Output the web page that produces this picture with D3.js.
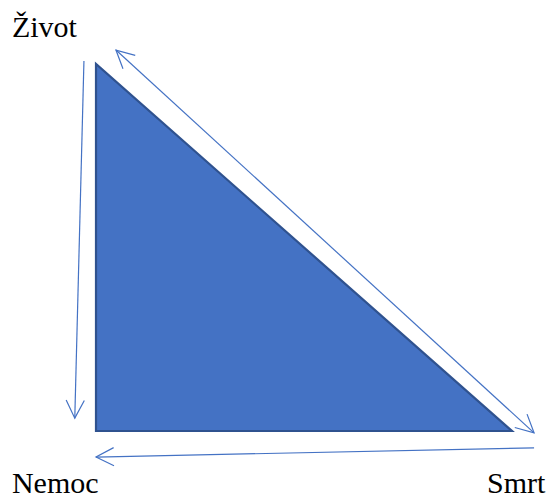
<!DOCTYPE html>
<html><head><meta charset="utf-8">
<script src="https://cdn.jsdelivr.net/npm/d3@7"></script>
</head><body style="margin:0">
<svg id="c" width="551" height="499" font-family="Times New Roman, Liberation Serif, Tinos, FreeSerif, serif"></svg>
<script>
// Nodes of the triangle (abstract units)
const nodes = ["Život", "Nemoc", "Smrt"];
const nodeX = [0, 0, 1];
const nodeY = [1, 0, 0];
// Label anchor points (abstract units)
const labelX = [-0.202, -0.202, 0.94];
const labelY = [1.073, -0.17, -0.17];
// Arrows: start / end (abstract units), double-headed flag
const arrowX1 = [-0.029, 0.048, 1.053];
const arrowY1 = [1.008, 1.038, -0.046];
const arrowX2 = [-0.051, 1.053, 0.0];
const arrowY2 = [0.035, -0.005, -0.071];
const arrowBoth = [false, true, false];

const svg = d3.select("#c");
const x = d3.scaleLinear().domain([0, 1]).range([96, 512]);
const y = d3.scaleLinear().domain([0, 1]).range([431, 64]);

svg.append("path")
  .attr("d", d3.line().x((d,i)=>x(nodeX[i])).y((d,i)=>y(nodeY[i])).curve(d3.curveLinearClosed)(nodes))
  .attr("fill", "#4472C4").attr("stroke", "#2F528F").attr("stroke-width", 2.2)
  .attr("stroke-linejoin", "miter");

const col = "#4472C4";
function head(px, py, dx, dy) {
  const L = 20, a = 27 * Math.PI / 180;
  const len = Math.hypot(dx, dy), ux = dx/len, uy = dy/len;
  const pts = [-a, a].map(t => {
    const c = Math.cos(t), s = Math.sin(t);
    const rx = ux*c - uy*s, ry = ux*s + uy*c;
    return [px - rx*L, py - ry*L];
  });
  return `M${pts[0][0]},${pts[0][1]}L${px},${py}L${pts[1][0]},${pts[1][1]}`;
}
arrowX1.forEach((_, i) => {
  const x1 = x(arrowX1[i]), y1 = y(arrowY1[i]), x2 = x(arrowX2[i]), y2 = y(arrowY2[i]);
  const g = svg.append("g").attr("stroke", col).attr("stroke-width", 1.2).attr("fill", "none");
  g.append("line").attr("x1", x1).attr("y1", y1).attr("x2", x2).attr("y2", y2);
  g.append("path").attr("d", head(x2, y2, x2 - x1, y2 - y1));
  if (arrowBoth[i]) g.append("path").attr("d", head(x1, y1, x1 - x2, y1 - y2));
});

svg.append("g").attr("font-family", "Times New Roman, Liberation Serif, serif")
  .selectAll("text").data(nodes).join("text")
  .attr("x", (d,i)=>x(labelX[i])).attr("y", (d,i)=>y(labelY[i]))
  .attr("font-size", 30)
  .style("font-family", "'Times New Roman', 'Liberation Serif', serif")
  .attr("fill", "#000")
  .text(d=>d);
</script>
</body></html>
